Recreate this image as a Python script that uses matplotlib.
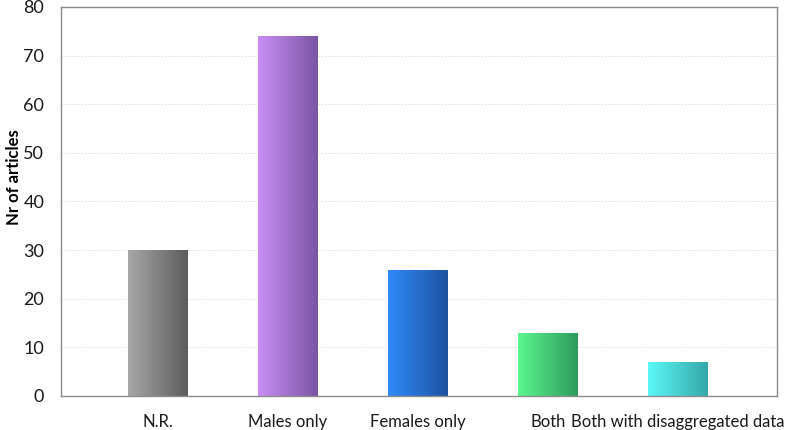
import numpy as np
import matplotlib.pyplot as plt
from matplotlib.colors import LinearSegmentedColormap
from matplotlib.transforms import ScaledTranslation

categories = ['N.R.', 'Males only', 'Females only', 'Both', 'Both with disaggregated data']
counts = [30, 74, 26, 13, 7]
light = ['#a8a8a8', '#c98ff7', '#2f8bfa', '#5bf790', '#5cf8f8']
dark = ['#5c5c5c', '#7a55a3', '#1f52a0', '#2e9a5c', '#34a8a8']

plt.rcParams['font.family'] = ['Lato', 'DejaVu Sans']

fig = plt.figure(figsize=(7.97, 4.30), dpi=100)
ax = fig.add_axes([61 / 797, 34 / 430, 716 / 797, 389 / 430])

width = 0.455
grad = np.linspace(0, 1, 256).reshape(1, -1)
bars = ax.bar(range(len(categories)), counts, width=width, color='none', zorder=2)
for b, c0, c1 in zip(bars, light, dark):
    cmap = LinearSegmentedColormap.from_list('g', [c0, c1])
    x0, y0 = b.get_x(), b.get_y()
    im = ax.imshow(grad, cmap=cmap, aspect='auto', zorder=2,
                   extent=[x0, x0 + b.get_width(), y0, y0 + b.get_height()])
    im.set_clip_path(b)

ax.set_xlim(-0.746, 4.762)
ax.set_ylim(0, 80)
ax.set_yticks(range(0, 81, 10))
ax.set_xticks(range(len(categories)))
ax.set_xticklabels(categories, fontsize=12, color='#1a1a1a')
# last label sits a little right of its bar in the original
lbl = ax.get_xticklabels()[-1]
lbl.set_transform(lbl.get_transform() + ScaledTranslation(12 / 100, 0, fig.dpi_scale_trans))
ax.tick_params(axis='y', labelsize=13, colors='#1a1a1a', length=0, pad=12)
ax.tick_params(axis='x', length=0, pad=13)
ax.yaxis.grid(True, color='#dddddd', linestyle=(0, (2, 2)), linewidth=0.6, zorder=0)
ax.set_axisbelow(True)
for s in ax.spines.values():
    s.set_color('#8c8c8c')
    s.set_linewidth(1)
ax.set_ylabel('Nr of articles', fontsize=12, fontweight='bold')
ax.yaxis.set_label_coords(-0.0545, 0.563)

fig.savefig('out.png', dpi=100)
